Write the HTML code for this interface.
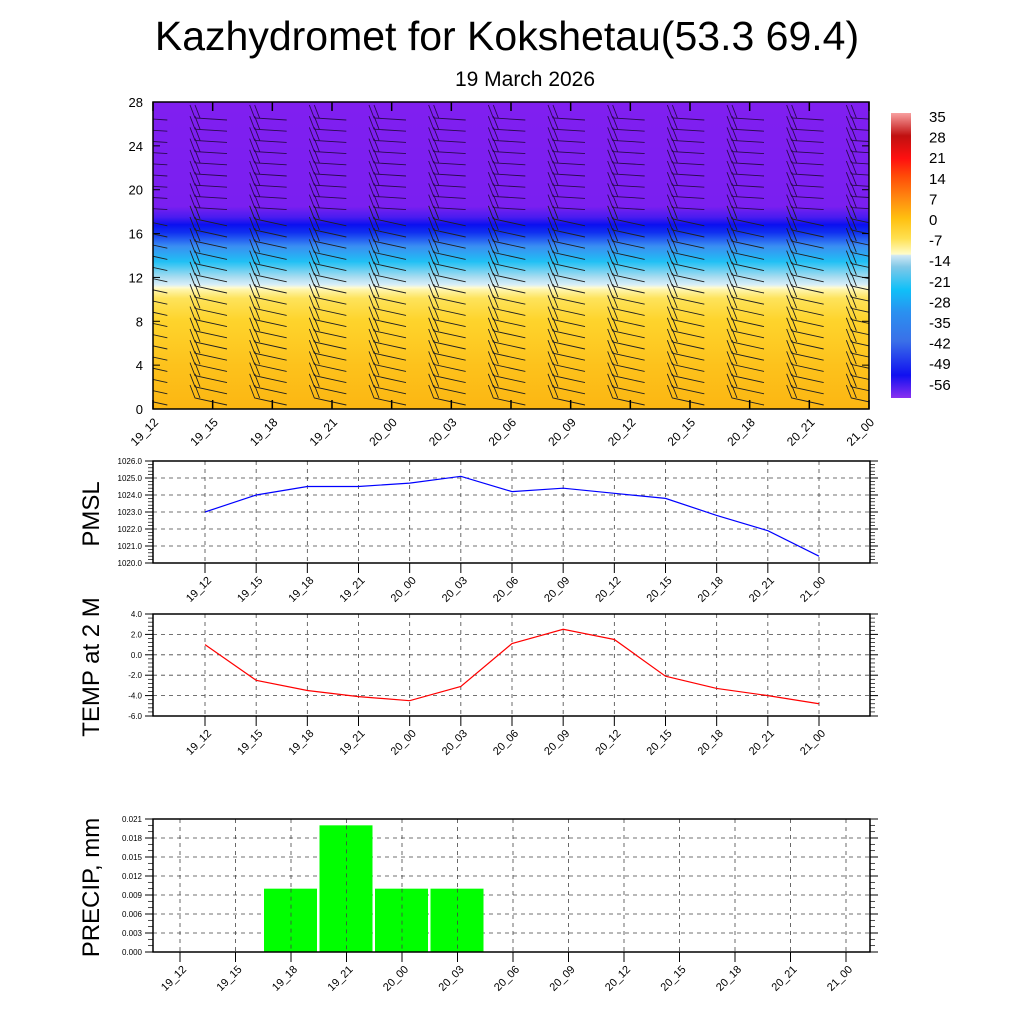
<!DOCTYPE html>
<html><head><meta charset="utf-8"><style>
body{margin:0;background:#fff;font-family:"Liberation Sans",sans-serif}
svg{display:block}
</style></head><body>
<svg id="s" width="1024" height="1024" xmlns="http://www.w3.org/2000/svg">
<defs>
<clipPath id="clipTop"><rect x="153" y="102" width="716" height="307"/></clipPath>
<linearGradient id="tg" x1="0" y1="1" x2="0" y2="0">
<stop offset="0" stop-color="#fcb612"/>
<stop offset="0.14" stop-color="#fdc21c"/>
<stop offset="0.29" stop-color="#fed42c"/>
<stop offset="0.36" stop-color="#fee35a"/>
<stop offset="0.39" stop-color="#fff6b0"/>
<stop offset="0.395" stop-color="#fffbd0"/>
<stop offset="0.405" stop-color="#d8eef8"/>
<stop offset="0.43" stop-color="#a8dcf0"/>
<stop offset="0.48" stop-color="#20c0f4"/>
<stop offset="0.53" stop-color="#3a8ef2"/>
<stop offset="0.575" stop-color="#1030f0"/>
<stop offset="0.6" stop-color="#0a10f0"/>
<stop offset="0.625" stop-color="#4a1cf0"/>
<stop offset="0.66" stop-color="#7a1ff0"/>
<stop offset="1" stop-color="#801ff0"/>
</linearGradient>
<linearGradient id="cb" x1="0" y1="1" x2="0" y2="0">
<stop offset="0" stop-color="#8a30f0"/>
<stop offset="0.08" stop-color="#1010f0"/>
<stop offset="0.2" stop-color="#3a70e8"/>
<stop offset="0.3" stop-color="#2a90f0"/>
<stop offset="0.38" stop-color="#10c0f8"/>
<stop offset="0.46" stop-color="#80c8e8"/>
<stop offset="0.5" stop-color="#d0e8f4"/>
<stop offset="0.505" stop-color="#fffcc8"/>
<stop offset="0.56" stop-color="#ffe050"/>
<stop offset="0.63" stop-color="#ffc010"/>
<stop offset="0.7" stop-color="#ff8a10"/>
<stop offset="0.78" stop-color="#ff4a08"/>
<stop offset="0.84" stop-color="#ff1010"/>
<stop offset="0.92" stop-color="#c01010"/>
<stop offset="1" stop-color="#f8a0a0"/>
</linearGradient>
</defs>
<text x="507" y="50" font-size="41" text-anchor="middle">Kazhydromet for Kokshetau(53.3 69.4)</text>
<text x="525" y="86" font-size="21" text-anchor="middle">19 March 2026</text>
<rect x="153" y="102" width="716" height="307" fill="url(#tg)"/>
<g id="barbs" clip-path="url(#clipTop)"></g>
<rect x="153" y="102" width="716" height="307" fill="none" stroke="#000" stroke-width="1.5"/>
<g id="topax"></g>
<rect x="891" y="113" width="20" height="285" fill="url(#cb)"/>
<g id="cbl"></g>
<g id="pmsl"></g>
<g id="temp"></g>
<g id="prec"></g>
</svg>
<script>
const times=["19_12","19_15","19_18","19_21","20_00","20_03","20_06","20_09","20_12","20_15","20_18","20_21","21_00"];
const pmsl=[1023.0,1024.0,1024.5,1024.5,1024.7,1025.1,1024.2,1024.4,1024.1,1023.8,1022.8,1021.9,1020.4];
const temp=[1.0,-2.5,-3.5,-4.1,-4.5,-3.1,1.1,2.5,1.5,-2.1,-3.3,-4.0,-4.8];
const precip=[0,0,0.01,0.02,0.01,0.01,0,0,0,0,0,0,0];
const heightTicks=[0,4,8,12,16,20,24,28];
const cbLabels=["35","28","21","14","7","0","-7","-14","-21","-28","-35","-42","-49","-56"];
const pmslTicks=[1020,1021,1022,1023,1024,1025,1026];
const tempTicks=[-6,-4,-2,0,2,4];
const precTicks=[0,0.003,0.006,0.009,0.012,0.015,0.018,0.021];
const NS="http://www.w3.org/2000/svg";
function mk(p,t,a,txt){const e=document.createElementNS(NS,t);for(const k in a)e.setAttribute(k,a[k]);if(txt!==undefined)e.textContent=txt;p.appendChild(e);return e;}
const topG=document.getElementById('topax');
const tx=i=>153+i*716/12, ty=h=>409-h*307/28;
heightTicks.forEach(h=>{
 const t=mk(topG,'text',{x:143,y:ty(h)+5,'font-size':13,'text-anchor':'end'},h);
 
 
 mk(topG,'line',{x1:153,x2:160,y1:ty(h),y2:ty(h),stroke:'#000'});
 mk(topG,'line',{x1:862,x2:869,y1:ty(h),y2:ty(h),stroke:'#000'});
});
times.forEach((s,i)=>{
 const x=tx(i);
 mk(topG,'line',{x1:x,x2:x,y1:409,y2:400,stroke:'#000','stroke-width':1.5});
 mk(topG,'line',{x1:x,x2:x,y1:102,y2:111,stroke:'#000','stroke-width':1.5});
 const t=mk(topG,'text',{x:0,y:0,'font-size':12,'text-anchor':'end',transform:`translate(${x+6},${423}) rotate(-45)`},s);
 
 
});
const bg=document.getElementById('barbs');
for(let i=-1;i<12;i++){const x=tx(i)+42;
 for(let y=118;y<405;y+=11.2){
  const up=y<215;
  const b=mk(bg,'path',{d:`M${x-5} ${y-13}L${x} ${y}L${x+32} ${y+(up?2:7)}M${x} ${y-13}L${x+5} ${y}`,stroke:up?'#2a0a50':'#202020','stroke-width':0.9,fill:'none'});
  
  
 }}
const cbl=document.getElementById('cbl');
cbLabels.forEach((l,i)=>{const t=mk(cbl,'text',{x:929,y:122+i*20.6,'font-size':15},l);
 
 });
function panel(gid,y0,y1,ticks,fmt,title,xs,ticksX,minor){
 const g=document.getElementById(gid);
 const lo=ticks[0],hi=ticks[ticks.length-1];
 const Y=v=>y1-(v-lo)/(hi-lo)*(y1-y0);
 ticks.forEach(v=>{const y=Y(v);
  if(v!==lo&&v!==hi)mk(g,'line',{x1:153,x2:870,y1:y,y2:y,stroke:'#444','stroke-dasharray':'4,4','stroke-width':0.8});
  mk(g,'line',{x1:145,x2:153,y1:y,y2:y,stroke:'#000'});
  mk(g,'line',{x1:870,x2:878,y1:y,y2:y,stroke:'#000'});
  const t=mk(g,'text',{x:142,y:y+3,'font-size':8,'text-anchor':'end'},fmt(v));
  
  });
 for(let k=0;k<ticks.length-1;k++)for(let m=1;m<minor;m++){const y=Y(ticks[k])+(Y(ticks[k+1])-Y(ticks[k]))*m/minor;
  mk(g,'line',{x1:148,x2:153,y1:y,y2:y,stroke:'#000','stroke-width':0.7});
  mk(g,'line',{x1:870,x2:875,y1:y,y2:y,stroke:'#000','stroke-width':0.7});}
 xs.forEach((x,i)=>{
  mk(g,'line',{x1:x,x2:x,y1:y0,y2:y1,stroke:'#444','stroke-dasharray':'4,4','stroke-width':0.8});
  mk(g,'line',{x1:x,x2:x,y1:y1,y2:y1+10,stroke:'#000'});
  const t=mk(g,'text',{x:0,y:0,'font-size':11,'text-anchor':'end',transform:`translate(${x+7},${y1+18}) rotate(-45)`},ticksX[i]);
  
  });
 const tt=mk(g,'text',{x:0,y:0,'font-size':24,'text-anchor':'middle',transform:`translate(99,${(y0+y1)/2+2}) rotate(-90)`},title);
 
 
 return {g,Y};
}
const px=i=>205+i*614/12;
let P=panel('pmsl',461,563,pmslTicks,v=>v.toFixed(1),'PMSL',times.map((_,i)=>px(i)),times,5);
const pl=mk(P.g,'polyline',{points:pmsl.map((v,i)=>px(i)+','+P.Y(v)).join(' '),fill:'none',stroke:'#0000ff','stroke-width':1.2});


mk(P.g,'rect',{x:153,y:461,width:717,height:102,fill:'none',stroke:'#000','stroke-width':1.5});
let T=panel('temp',614,716,tempTicks,v=>v.toFixed(1),'TEMP at 2 M',times.map((_,i)=>px(i)),times,5);
const tl=mk(T.g,'polyline',{points:temp.map((v,i)=>px(i)+','+T.Y(v)).join(' '),fill:'none',stroke:'#ff0000','stroke-width':1.2});


mk(T.g,'rect',{x:153,y:614,width:717,height:102,fill:'none',stroke:'#000','stroke-width':1.5});
const qx=i=>180+i*666/12;
let R=panel('prec',819,952,precTicks,v=>v.toFixed(3),'PRECIP, mm',times.map((_,i)=>qx(i)),times,3);
precip.forEach((v,i)=>{if(v<=0)return;
 const b=mk(R.g,'rect',{x:qx(i)-27,y:R.Y(v),width:53,height:952-R.Y(v),fill:'#00ff00'});
 
 
 mk(R.g,'line',{x1:qx(i),x2:qx(i),y1:R.Y(v),y2:952,stroke:'#444','stroke-dasharray':'4,4','stroke-width':0.8});
});
mk(R.g,'rect',{x:153,y:819,width:717,height:133,fill:'none',stroke:'#000','stroke-width':1.5});
</script>
</body></html>
